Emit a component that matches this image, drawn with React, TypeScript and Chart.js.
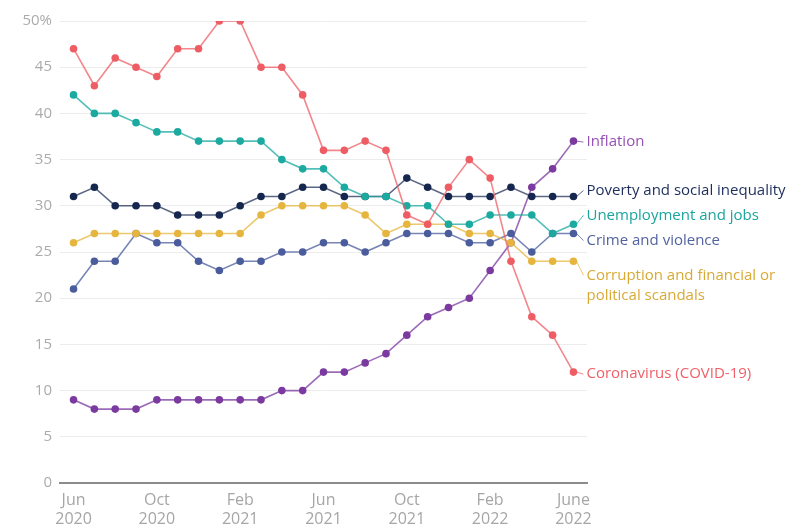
import React, { useEffect, useRef } from "react";
import { Chart, registerables } from "chart.js";

Chart.register(...registerables);

const months = [
  "Jun 2020", "Jul 2020", "Aug 2020", "Sep 2020", "Oct 2020", "Nov 2020", "Dec 2020",
  "Jan 2021", "Feb 2021", "Mar 2021", "Apr 2021", "May 2021", "Jun 2021", "Jul 2021",
  "Aug 2021", "Sep 2021", "Oct 2021", "Nov 2021", "Dec 2021", "Jan 2022", "Feb 2022",
  "Mar 2022", "Apr 2022", "May 2022", "June 2022",
];

const xTickLabels = [
  ["Jun", "2020"], ["Oct", "2020"], ["Feb", "2021"], ["Jun", "2021"],
  ["Oct", "2021"], ["Feb", "2022"], ["June", "2022"],
];
const xTickPositions = [0, 4, 8, 12, 16, 20, 24];
const yTicks = [0, 5, 10, 15, 20, 25, 30, 35, 40, 45, 50];

const coronavirus = [47, 43, 46, 45, 44, 47, 47, 50, 50, 45, 45, 42, 36, 36, 37, 36, 29, 28, 32, 35, 33, 24, 18, 16, 12];
const unemployment = [42, 40, 40, 39, 38, 38, 37, 37, 37, 37, 35, 34, 34, 32, 31, 31, 30, 30, 28, 28, 29, 29, 29, 27, 28];
const poverty = [31, 32, 30, 30, 30, 29, 29, 29, 30, 31, 31, 32, 32, 31, 31, 31, 33, 32, 31, 31, 31, 32, 31, 31, 31];
const corruption = [26, 27, 27, 27, 27, 27, 27, 27, 27, 29, 30, 30, 30, 30, 29, 27, 28, 28, 28, 27, 27, 26, 24, 24, 24];
const crime = [21, 24, 24, 27, 26, 26, 24, 23, 24, 24, 25, 25, 26, 26, 25, 26, 27, 27, 27, 26, 26, 27, 25, 27, 27];
const inflation = [9, 8, 8, 8, 9, 9, 9, 9, 9, 9, 10, 10, 12, 12, 13, 14, 16, 18, 19, 20, 23, 26, 32, 34, 37];

const seriesNames = [
  "Coronavirus (COVID-19)",
  "Unemployment and jobs",
  "Poverty and social inequality",
  "Corruption and financial or political scandals",
  "Crime and violence",
  "Inflation",
];
const seriesValues = [coronavirus, unemployment, poverty, corruption, crime, inflation];
const seriesColors = ["#ef5d64", "#1ba9a0", "#15264f", "#e6b53e", "#4a5c9c", "#7b3a9f"];
const lineColors = ["rgba(239,93,100,0.75)", "rgba(27,169,160,0.75)", "rgba(21,38,79,0.7)", "rgba(230,181,62,0.75)", "rgba(74,92,156,0.75)", "rgba(123,58,159,0.75)"];
const labelColors = ["#ef6068", "#1aa59d", "#1d2d5c", "#d8aa35", "#5263a0", "#9650b5"];
const labelLines = [
  ["Coronavirus (COVID-19)"],
  ["Unemployment and jobs"],
  ["Poverty and social inequality"],
  ["Corruption and financial or", "political scandals"],
  ["Crime and violence"],
  ["Inflation"],
];
const labelOffsets = [2, -9, -6, 14, 7, 1];

const FONT = "'Open Sans', 'Noto Sans', sans-serif";

const endLabels = {
  id: "endLabels",
  afterDatasetsDraw(chart: any) {
    const { ctx, scales } = chart;
    const xs = scales.x;
    const ys = scales.y;
    ctx.save();
    ctx.font = `15px ${FONT}`;
    ctx.textBaseline = "middle";
    ctx.textAlign = "left";
    seriesValues.forEach((vals, i) => {
      const last = vals.length - 1;
      const px = xs.getPixelForValue(last);
      const py = ys.getPixelForValue(vals[last]);
      const ly = py + labelOffsets[i];
      const lx = px + 13;
      ctx.strokeStyle = lineColors[i];
      ctx.lineWidth = 1;
      ctx.beginPath();
      ctx.moveTo(px + 3, py);
      ctx.lineTo(lx - 3, ly);
      ctx.stroke();
      ctx.fillStyle = labelColors[i];
      labelLines[i].forEach((t, k) => {
        ctx.fillText(t, lx, ly + k * 20);
      });
    });
    ctx.restore();
  },
};

export default function App() {
  const ref = useRef<HTMLCanvasElement>(null);
  useEffect(() => {
    if (!ref.current) return;
    const chart = new Chart(ref.current, {
      type: "line",
      data: {
        labels: months,
        datasets: seriesValues.map((vals, i) => ({
          label: seriesNames[i],
          data: vals.map((v, k) => ({ x: k, y: v })),
          borderColor: lineColors[i],
          backgroundColor: seriesColors[i],
          pointBackgroundColor: seriesColors[i],
          pointBorderColor: seriesColors[i],
          pointRadius: 3.8,
          pointBorderWidth: 0,
          borderWidth: 1.6,
          tension: 0,
        })),
      },
      options: {
        animation: false,
        responsive: false,
        maintainAspectRatio: false,
        layout: { padding: { top: 21, right: 205, left: 0, bottom: 0 } },
        plugins: {
          legend: { display: false },
          tooltip: { enabled: false },
        },
        scales: {
          x: {
            type: "linear",
            min: -0.65,
            max: 24.65,
            afterBuildTicks: (scale: any) => {
              scale.ticks = xTickPositions.map((v) => ({ value: v }));
            },
            afterFit: (scale: any) => {
              scale.height = 43;
            },
            ticks: {
              autoSkip: false,
              maxRotation: 0,
              padding: 8,
              color: "#a6a6a6",
              font: { family: FONT, size: 16, lineHeight: 1.2 },
              callback: (v: any) => {
                const idx = xTickPositions.indexOf(Number(v));
                return idx >= 0 ? xTickLabels[idx] : "";
              },
            },
            grid: { display: false, drawTicks: false },
            border: { display: true, color: "#8c8c8c", width: 2 },
          },
          y: {
            min: 0,
            max: 50,
            afterBuildTicks: (scale: any) => {
              scale.ticks = yTicks.map((v) => ({ value: v }));
            },
            afterFit: (scale: any) => {
              scale.width = 60;
            },
            ticks: {
              padding: 8,
              color: "#ababab",
              font: { family: FONT, size: 15 },
              callback: (v: any) => (Number(v) === 50 ? "50%" : String(v)),
            },
            grid: { color: "#ececec", lineWidth: 1, drawTicks: false },
            border: { display: false },
          },
        },
      },
      plugins: [endLabels],
    });
    return () => chart.destroy();
  }, []);
  return (
    <div style={{ position: "fixed", left: 0, top: 0, width: 792, height: 526, background: "#fff" }}>
      <canvas ref={ref} width={792} height={526} style={{ width: 792, height: 526 }} />
    </div>
  );
}
